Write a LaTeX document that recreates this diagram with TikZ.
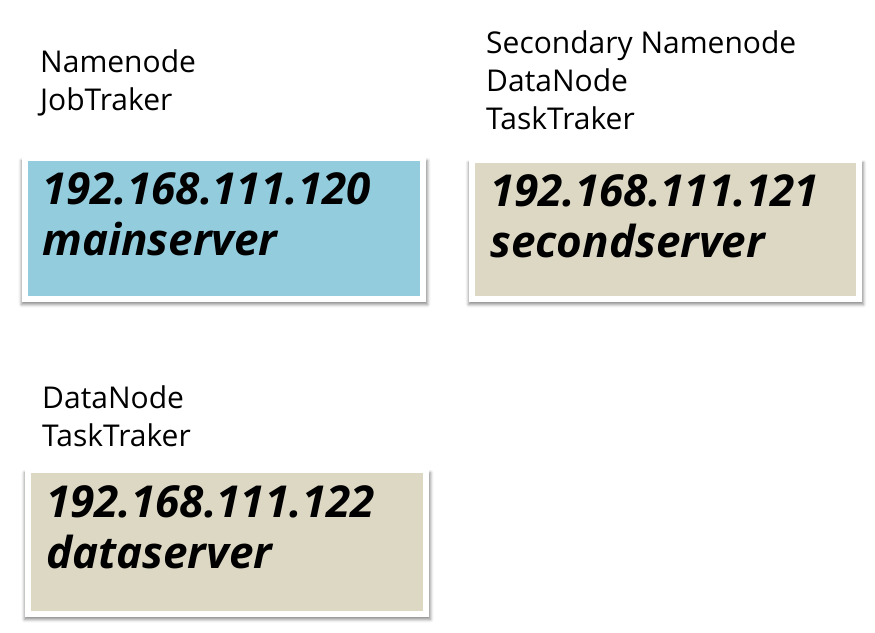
\documentclass[tikz,border=0pt]{standalone}
\usepackage{fontspec}
\setmainfont{Open Sans}
\usetikzlibrary{shadows.blur}
\definecolor{boxblue}{HTML}{93CDDD}
\definecolor{boxtan}{HTML}{DDD8C4}
\begin{document}
\begin{tikzpicture}[x=1pt,y=-1pt,
  srvbox/.style={rectangle, draw=white, line width=6pt, outer sep=0pt, inner sep=0pt,
    blur shadow={shadow xshift=0.5pt, shadow yshift=-4pt, shadow scale=1.02, shadow blur radius=3pt, shadow opacity=45}},
  iptext/.style={anchor=base west, font=\fontsize{44}{51}\selectfont\bfseries\itshape, inner sep=0pt, align=left},
  lbl/.style={anchor=base west, font=\fontsize{30}{38}\selectfont, inner sep=0pt, align=left}]
\useasboundingbox (0,0) rectangle (875,632);
% labels
\node[lbl] (l1) at (40,110) {Namenode\\JobTraker};
\node[lbl] (l2) at (486,129) {Secondary Namenode\\DataNode\\TaskTraker};
\node[lbl] (l3) at (42,446) {DataNode\\TaskTraker};
% boxes
\node[srvbox, minimum width=398pt, minimum height=141pt, fill=boxblue] (b1) at (224,228.5) {};
\node[srvbox, minimum width=387pt, minimum height=139pt, fill=boxtan] (b2) at (665.5,229.5) {};
\node[srvbox, minimum width=398pt, minimum height=144pt, fill=boxtan] (b3) at (227,542) {};
% box texts
\node[iptext] (t1) at (42,255) {192.168.111.120\\mainserver};
\node[iptext] (t2) at (490,257) {192.168.111.121\\secondserver};
\node[iptext] (t3) at (46,568) {192.168.111.122\\dataserver};
\end{tikzpicture}
\end{document}
